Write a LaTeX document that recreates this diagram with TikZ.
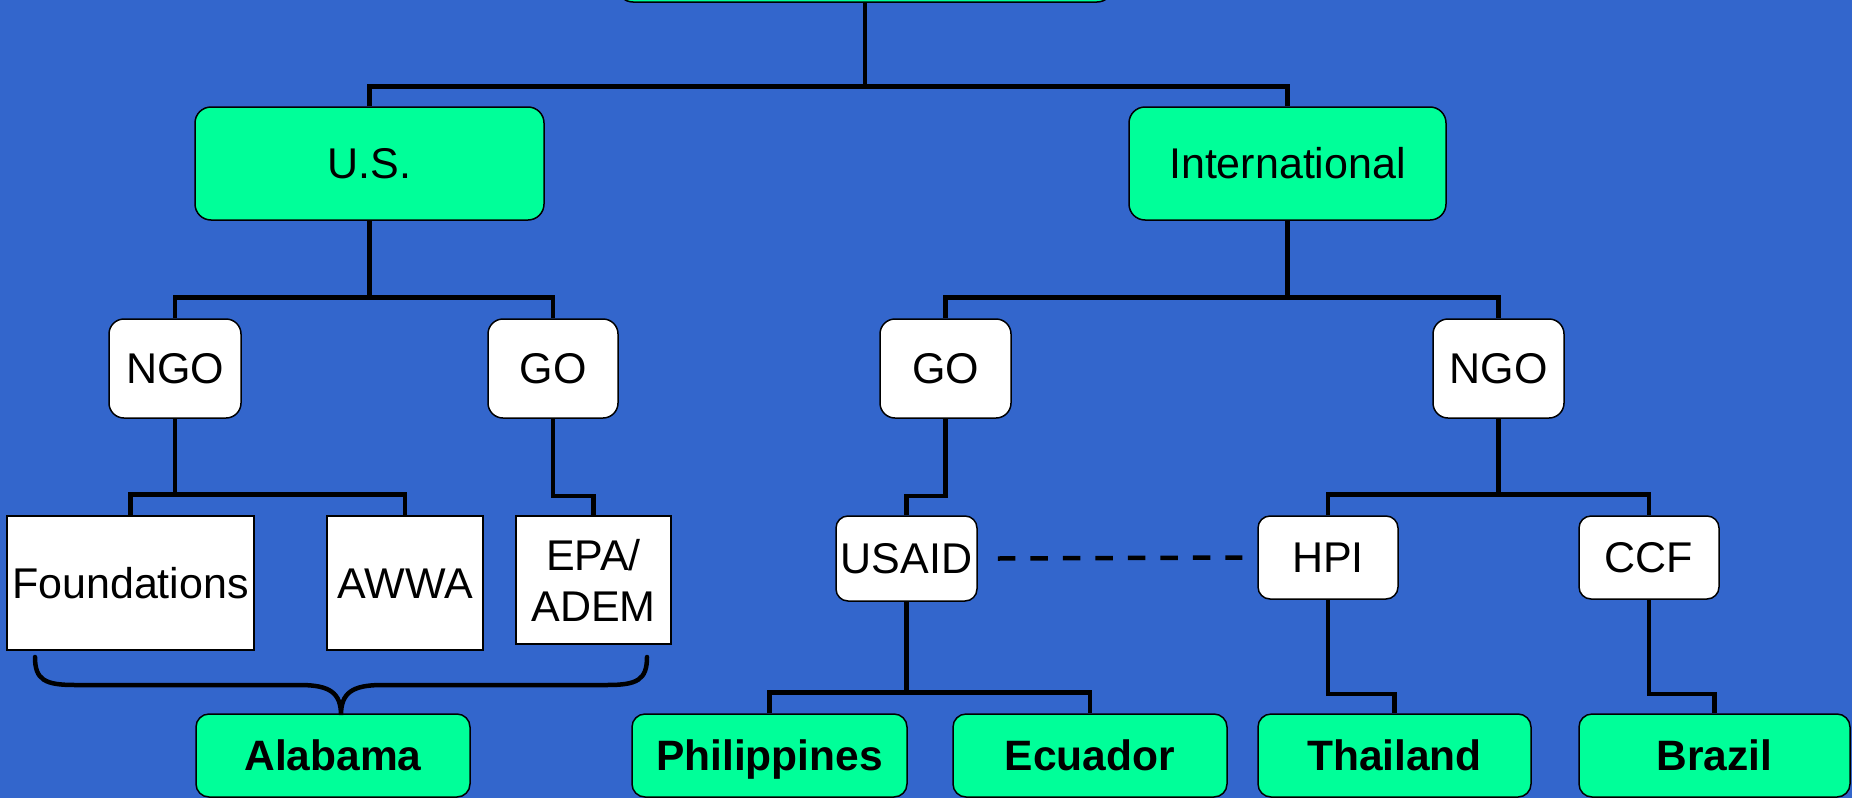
\documentclass[tikz,border=0pt]{standalone}
\usepackage{fontspec}
\setmainfont{Liberation Sans}
\definecolor{bgblue}{HTML}{3366CC}
\definecolor{boxgreen}{HTML}{00FF99}
\tikzset{
  box/.style={draw=black, line width=1.5pt, inner sep=0pt, anchor=center,
    font=\fontsize{43}{51}\selectfont, align=center},
  capsA/.style={text height=30.8pt, text depth=0pt},
  capsB/.style={text height=30.4pt, text depth=0pt},
  greenbox/.style={box, capsA, fill=boxgreen, rounded corners=16pt},
  gbold/.style={box, capsB, fill=boxgreen, rounded corners=13pt, font=\fontsize{42.5}{48}\selectfont\bfseries},
  wround/.style={box, capsA, fill=white, rounded corners=15pt},
  wsmall/.style={box, capsA, fill=white, rounded corners=12pt},
  wsquare/.style={box, fill=white},
  conn/.style={draw=black, line width=4.5pt, line join=miter},
  dashconn/.style={draw=black, line width=4.5pt, dash pattern=on 17.5pt off 15pt},
  bracestyle/.style={draw=black, line width=4.5pt, line cap=round}
}
\begin{document}
\begin{tikzpicture}[x=1pt,y=-1pt]
\useasboundingbox (0,0) rectangle (1852,798);
\clip (0,0) rectangle (1852,798);
\fill[bgblue] (0,0) rectangle (1852,798);

% nodes
\node[greenbox, minimum width=496pt, minimum height=102pt] (root) at (865,-49) {};
\node[greenbox, minimum width=349pt, minimum height=113pt] (us) at (369.5,163.5) {U.S.};
\node[greenbox, minimum width=317pt, minimum height=113pt] (intl) at (1287.5,163.5) {International};

\node[wround, minimum width=132pt, minimum height=99pt] (ngoL) at (175,368.5) {NGO};
\node[wround, minimum width=130pt, minimum height=99pt] (goL) at (553,368.5) {GO};
\node[wround, minimum width=131pt, minimum height=99pt] (goR) at (945.5,368.5) {GO};
\node[wround, minimum width=131pt, minimum height=99pt] (ngoR) at (1498.5,368.5) {NGO};

\node[wsquare, capsA, minimum width=247pt, minimum height=134pt] (found) at (130.5,583) {Foundations};
\node[wsquare, capsA, minimum width=156pt, minimum height=134pt] (awwa) at (405,583) {AWWA};
\node[wsquare, minimum width=155pt, minimum height=128pt] (epa) at (593.5,580) {EPA/\\ADEM};

\node[wsmall, minimum width=141pt, minimum height=85pt] (usaid) at (906.5,558.5) {USAID};
\node[wsmall, minimum width=140pt, minimum height=83pt] (hpi) at (1328,557.5) {HPI};
\node[wsmall, minimum width=140pt, minimum height=83pt] (ccf) at (1649,557.5) {CCF};

\node[gbold, minimum width=274pt, minimum height=83pt] (alabama) at (333,755.5) {Alabama};
\node[gbold, minimum width=275pt, minimum height=83pt] (phil) at (769.5,755.5) {Philippines};
\node[gbold, minimum width=274pt, minimum height=83pt] (ecu) at (1090,755.5) {Ecuador};
\node[gbold, minimum width=273pt, minimum height=83pt] (thai) at (1394.5,755.5) {Thailand};
\node[gbold, minimum width=271pt, minimum height=83pt] (brazil) at (1714.5,755.5) {Brazil};

% connectors
\draw[conn] (root.south) -- ++(0,85);
\draw[conn] (us.north) -- ++(0,-20) -| (intl.north);

\draw[conn] (us.south) -- ++(0,78);
\draw[conn] (ngoL.north) -- ++(0,-21) -| (goL.north);
\draw[conn] (intl.south) -- ++(0,78);
\draw[conn] (goR.north) -- ++(0,-21) -| (ngoR.north);

\draw[conn] (ngoL.south) -- ++(0,77);
\draw[conn] (found.north) -- ++(0,-21) -| (awwa.north);
\draw[conn] (goL.south) -- ++(0,77) -| (epa.north);
\draw[conn] (goR.south) -- ++(0,77) -| (usaid.north);
\draw[conn] (ngoR.south) -- ++(0,77);
\draw[conn] (hpi.north) -- ++(0,-21) -| (ccf.north);

\draw[conn] (usaid.south) -- ++(0,92);
\draw[conn] (phil.north) -- ++(0,-21) -| (ecu.north);
\draw[conn] (hpi.south) -- ++(0,94) -| (thai.north);
\draw[conn] (ccf.south) -- ++(0,94) -| (brazil.north);

\draw[dashconn] ([xshift=20pt]usaid.east) -- ([xshift=-15pt]hpi.west);

% brace
\coordinate (bl) at (35,657);
\coordinate (br) at (647,657);
\coordinate (btip) at (341,715);
\draw[bracestyle] (bl) .. controls (35,680) and (45,685) .. (75,685)
  -- (300,685) .. controls (330,685) and (341,693) .. (btip)
  .. controls (341,693) and (352,685) .. (382,685)
  -- (607,685) .. controls (637,685) and (647,680) .. (br);
\end{tikzpicture}
\end{document}
